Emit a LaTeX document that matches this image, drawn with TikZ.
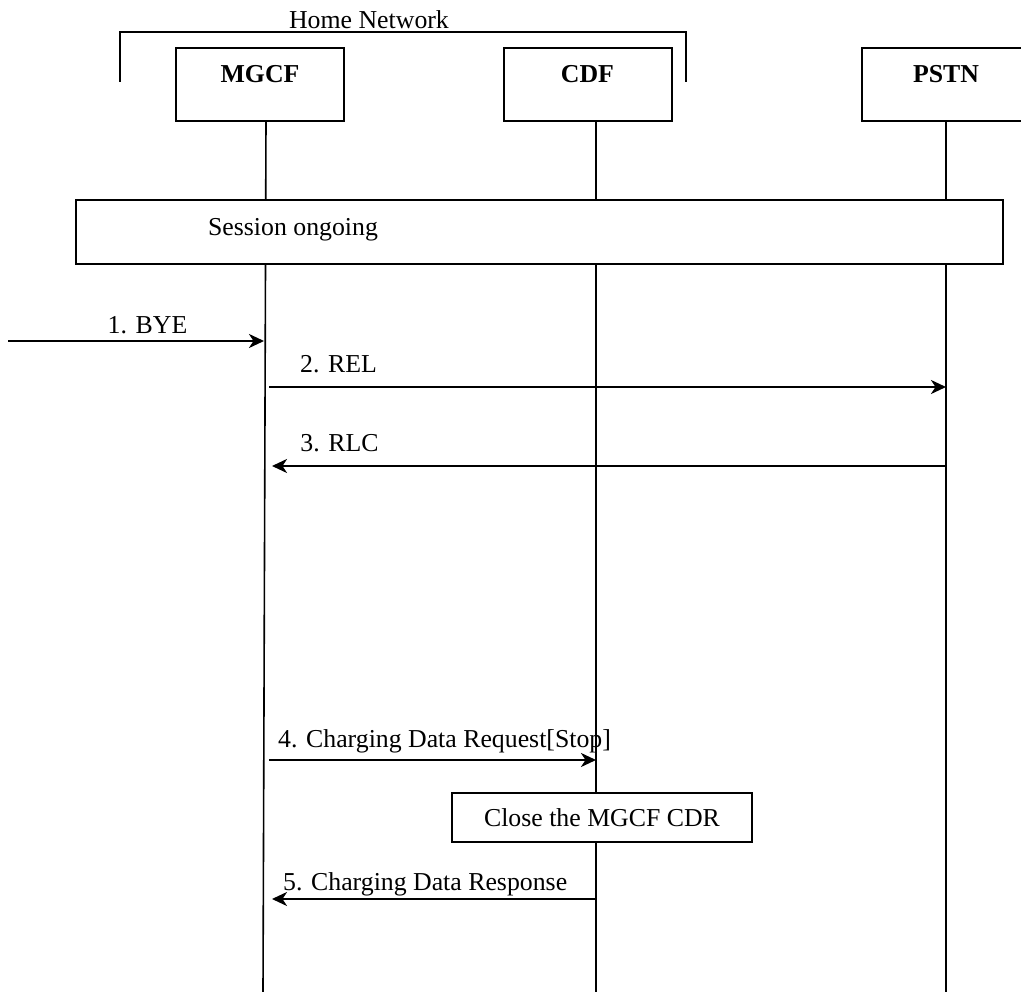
\documentclass[tikz,border=0pt]{standalone}
\usepackage{fontspec}
\setmainfont{Liberation Serif}
\usetikzlibrary{arrows.meta}
\begin{document}
\begin{tikzpicture}[x=1pt,y=-1pt,
  every node/.style={inner sep=0pt,font=\fontsize{25.8}{30}\selectfont},
  ent/.style={draw,line width=2pt,fill=white,minimum width=168pt,text height=35pt,text depth=38pt,anchor=north,font=\fontsize{25.8}{30}\selectfont\bfseries},
  procbox/.style={draw,line width=2pt,fill=white},
  life/.style={line width=1.6pt},
  msg/.style={line width=2.2pt,-{Stealth[length=15pt,width=14pt,inset=4.5pt]}},
  lbl/.style={anchor=base}
]
\useasboundingbox (0,0) rectangle (1021,992);
\begin{scope}
\clip (0,0) rectangle (1021,992);
% lifelines
\coordinate (mt) at (266,120);
\coordinate (mb) at (263,992);
\coordinate (ct) at (596,120);
\coordinate (cb) at (596,992);
\coordinate (pt) at (946,120);
\coordinate (pb) at (946,992);
\draw[life] (mt) -- (mb);
\draw[life] (ct) -- (cb);
\draw[life] (pt) -- (pb);
% bracket
\coordinate (h1) at (120,82);
\coordinate (h2) at (120,32);
\coordinate (h3) at (686,32);
\coordinate (h4) at (686,82);
\draw[line width=1.8pt] (h1) -- (h2) -- (h3) -- (h4);
\node[lbl] (home) at (369,29) {Home Network};
% entities
\node[ent] (mgcf) at (260,47) {MGCF};
\node[ent] (cdf) at (587.5,47) {CDF};
\node[ent] (pstn) at (946,47) {PSTN};
% session ongoing
\node[procbox,minimum width=927pt,minimum height=64pt] (session) at (539.5,232) {};
\node[lbl] (sesstxt) at (293,236) {Session ongoing};
% messages
\coordinate (b0) at (8,341);
\coordinate (b1) at (264,341);
\draw[msg] (b0) -- (b1);
\node[lbl] (l1) at (147.5,334) {1. BYE};
\coordinate (r0) at (269,387);
\coordinate (r1) at (946,387);
\draw[msg] (r0) -- (r1);
\node[lbl] (l2) at (338.5,373) {2. REL};
\coordinate (c0) at (946,466);
\coordinate (c1) at (272,466);
\draw[msg] (c0) -- (c1);
\node[lbl] (l3) at (339.5,452) {3. RLC};
\coordinate (q0) at (269,760);
\coordinate (q1) at (596,760);
\draw[msg] (q0) -- (q1);
\node[anchor=base west] (l4) at (278,747) {4. Charging Data Request[Stop]};
\node[procbox,minimum width=300pt,text height=33pt,text depth=16pt,anchor=north] (close) at (602,792) {Close the MGCF CDR};
\coordinate (s0) at (596,899);
\coordinate (s1) at (272,899);
\draw[msg] (s0) -- (s1);
\node[anchor=base west] (l5) at (283,890) {5. Charging Data Response};
\end{scope}
\end{tikzpicture}
\end{document}
